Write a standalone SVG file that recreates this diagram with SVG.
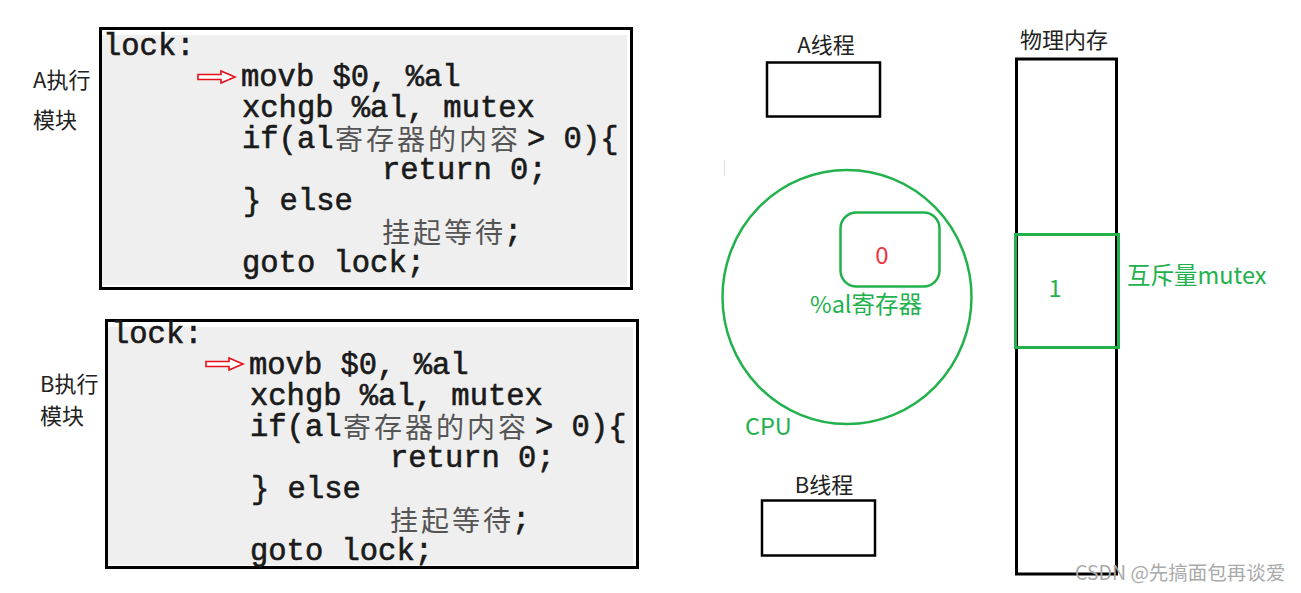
<svg xmlns="http://www.w3.org/2000/svg" width="1301" height="593" viewBox="0 0 1301 593">
<style>
.code{font-family:"Liberation Mono","Courier New",monospace;font-size:30.5px;fill:#1a1a1a;stroke:#1a1a1a;stroke-width:0.6}
.cjk{font-family:"Noto Sans CJK SC",sans-serif;font-size:28px;fill:#555;letter-spacing:3px}
.lbl{font-family:"Noto Sans CJK SC",sans-serif;font-size:22px;fill:#222}
.grn{font-family:"Noto Sans CJK SC",sans-serif;font-size:23.5px;fill:#22b14c}
.box{fill:none;stroke:#000;stroke-width:3}
.gbox{fill:none;stroke:#22b14c;stroke-width:3}
.arr{fill:#fff;stroke:#e8101a;stroke-width:1.6}
</style>
<rect width="1301" height="593" fill="#fff"/>
<g id="codeA">
<rect x="102" y="35" width="525" height="250" fill="#efefef"/>
<rect class="box" x="100.5" y="28.5" width="531" height="260"/>
<text class="code" x="103" y="55">lock:</text>
<polygon class="arr" points="198,74.5 221,74.5 221,71 235,77 221,83 221,79.5 198,79.5"/>
<text class="code" x="241" y="86">movb $0, %al</text>
<text class="code" x="242" y="117">xchgb %al, mutex</text>
<text class="code" x="242" y="148">if(al</text>
<text class="cjk" x="335" y="150">寄存器的内容</text>
<text class="code" x="527" y="148"> &gt; 0){</text>
<text class="code" x="382" y="179">return 0;</text>
<text class="code" x="243" y="210">} else</text>
<text class="cjk" x="382" y="243">挂起等待</text>
<text class="code" x="504" y="241">;</text>
<text class="code" x="242" y="272">goto lock;</text>
</g>
<g id="codeB">
<rect x="108" y="327" width="525" height="238" fill="#efefef"/>
<rect class="box" x="106.5" y="320.5" width="531" height="247"/>
<text class="code" x="111" y="343">lock:</text>
<polygon class="arr" points="206,361.5 229,361.5 229,358 243,364 229,370 229,366.5 206,366.5"/>
<text class="code" x="249" y="374">movb $0, %al</text>
<text class="code" x="250" y="405">xchgb %al, mutex</text>
<text class="code" x="250" y="436">if(al</text>
<text class="cjk" x="343" y="438">寄存器的内容</text>
<text class="code" x="535" y="436"> &gt; 0){</text>
<text class="code" x="390" y="467">return 0;</text>
<text class="code" x="251" y="498">} else</text>
<text class="cjk" x="390" y="531">挂起等待</text>
<text class="code" x="512" y="529">;</text>
<text class="code" x="250" y="560">goto lock;</text>
</g>
<g id="labelA">
<text class="lbl" x="33" y="88">A执行</text>
<text class="lbl" x="33" y="128">模块</text>
</g>
<g id="labelB">
<text class="lbl" x="40" y="392">B执行</text>
<text class="lbl" x="40" y="424">模块</text>
</g>
<g id="threadA">
<text class="lbl" x="826" y="53" text-anchor="middle">A线程</text>
<rect x="767" y="62.5" width="113" height="54" fill="none" stroke="#000" stroke-width="2.5"/>
</g>
<g id="threadB">
<text class="lbl" x="824" y="493" text-anchor="middle">B线程</text>
<rect x="762" y="500.5" width="113" height="55" fill="none" stroke="#000" stroke-width="2.5"/>
</g>
<g id="memory">
<text class="lbl" x="1064" y="48" text-anchor="middle" font-size="24">物理内存</text>
<rect class="box" x="1016.5" y="59" width="100" height="515"/>
<rect class="gbox" x="1015.5" y="234.5" width="103" height="113"/>
<text class="grn" x="1055" y="297" text-anchor="middle">1</text>
<text class="grn" x="1127" y="284" font-size="24">互斥量mutex</text>
</g>
<g id="cpu">
<line x1="724.5" y1="160" x2="724.5" y2="176" stroke="#ddd" stroke-width="1"/>
<ellipse cx="847" cy="297" rx="124.5" ry="127" fill="none" stroke="#22b14c" stroke-width="2.5"/>
<rect x="840.5" y="212.5" width="99" height="74" rx="16" fill="none" stroke="#22b14c" stroke-width="2.5"/>
<text x="882" y="264" text-anchor="middle" font-family="Noto Sans CJK SC,sans-serif" font-size="24" fill="#ee3340">0</text>
<text class="grn" x="810" y="313">%al寄存器</text>
<text class="grn" x="745" y="435">CPU</text>
</g>
<text x="1075" y="580" font-family="Noto Sans CJK SC,sans-serif" font-size="19.5" fill="#aaa">CSDN @先搞面包再谈爱</text>
</svg>
